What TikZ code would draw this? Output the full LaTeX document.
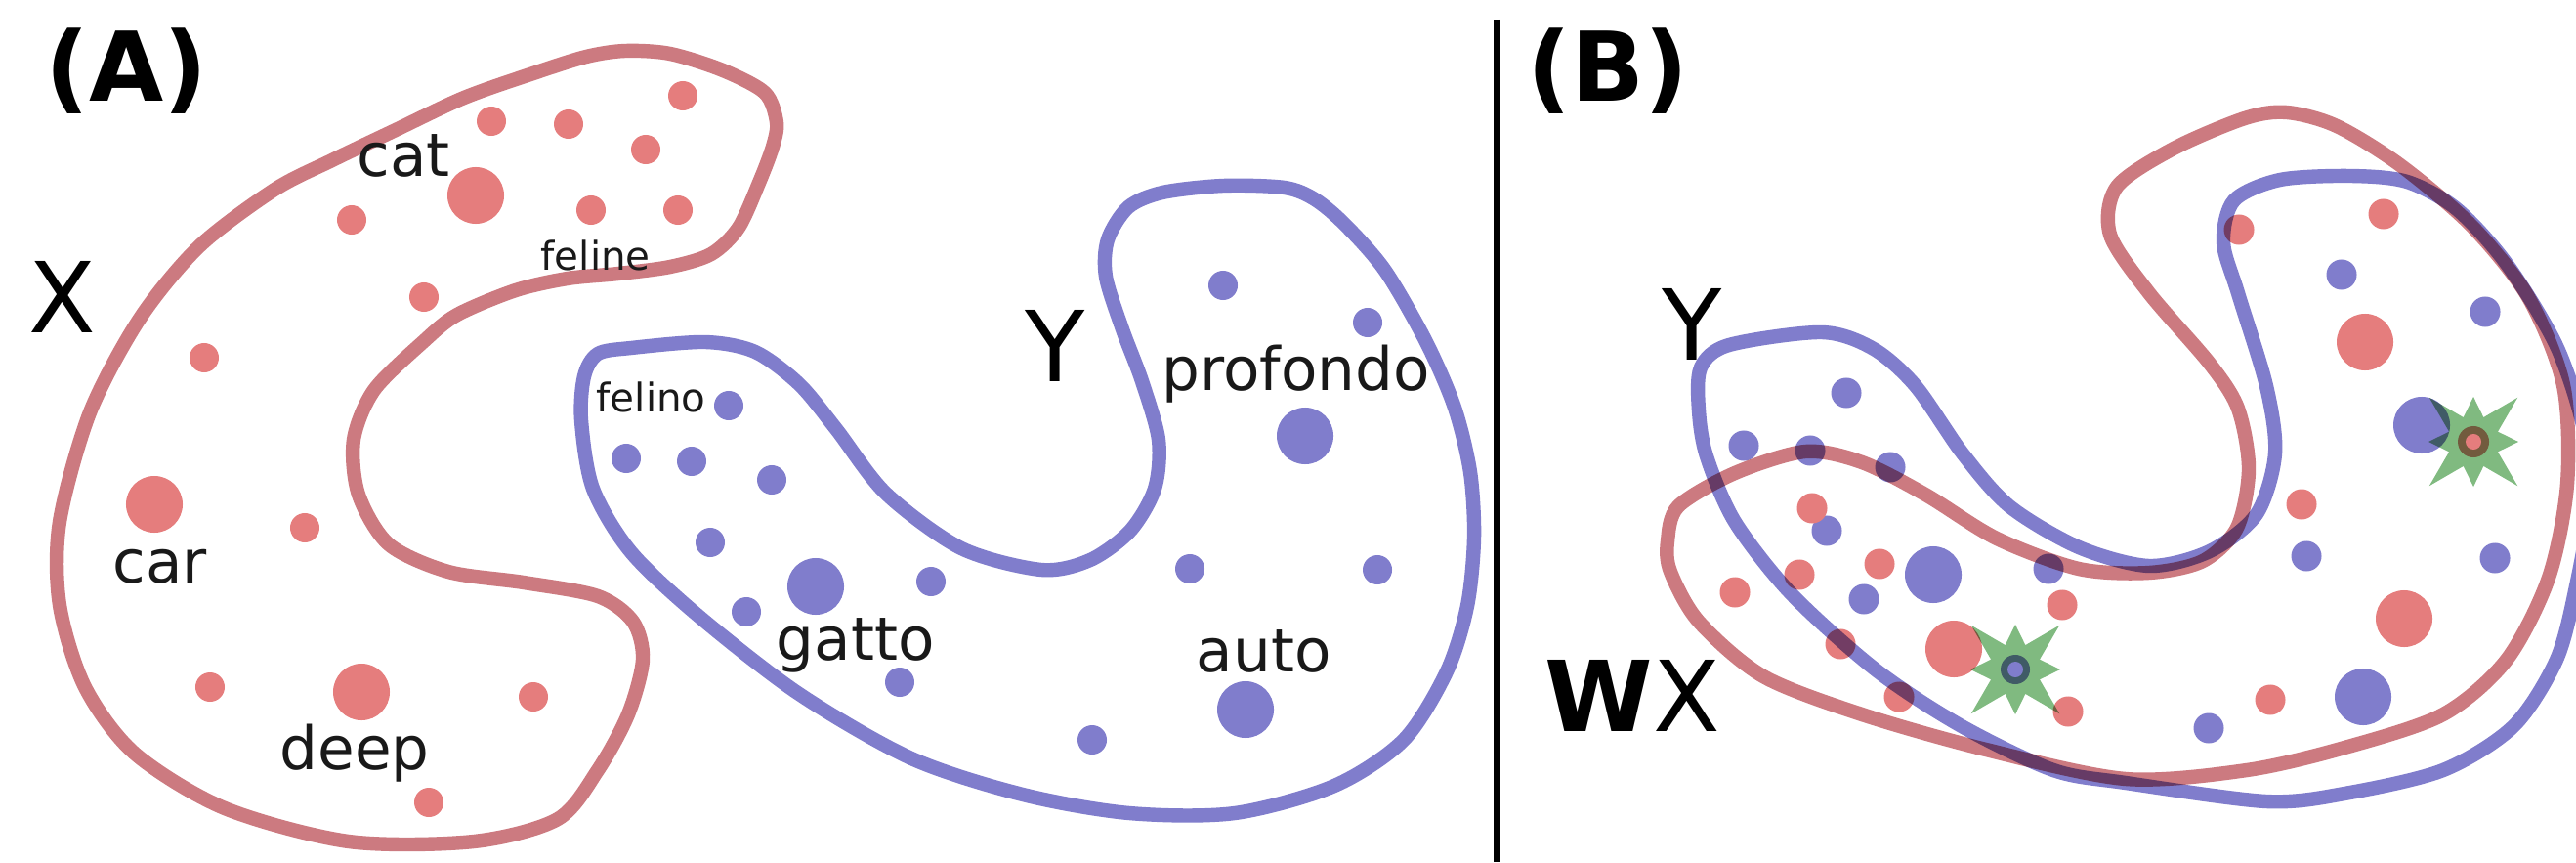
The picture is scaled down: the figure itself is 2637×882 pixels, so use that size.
\documentclass[tikz,border=0pt]{standalone}
\usepackage{fontspec}
\setmainfont{DejaVu Sans}
\usepackage{tikz}
\usetikzlibrary{positioning}
\definecolor{xline}{RGB}{204,122,128}
\definecolor{xdot}{RGB}{229,125,125}
\definecolor{yline}{RGB}{128,125,204}
\definecolor{ydot}{RGB}{128,125,204}
\definecolor{stargreen}{RGB}{128,186,128}
\definecolor{inktext}{RGB}{25,25,25}
\tikzset{
  xshape/.style={draw=xline, line width=4.1pt},
  yshape/.style={draw=yline, line width=4.1pt},
  word/.style={inner sep=0pt, anchor=base west, text=inktext,
    font=\fontsize{17.4}{20}\selectfont},
  smallword/.style={word, font=\fontsize{11.5}{13}\selectfont},
  setname/.style={word, text=black, font=\fontsize{28.5}{34}\selectfont},
  panel/.style={word, text=black, font=\fontsize{28}{34}\selectfont\bfseries},
  starmark/.pic={
    \fill[stargreen, blend mode=multiply] (0:46) -- (22.5:27) -- (45:64) -- (67.5:27) -- (90:46)
      -- (112.5:27) -- (135:64) -- (157.5:27) -- (180:46) -- (202.5:27) -- (225:64)
      -- (247.5:27) -- (270:46) -- (292.5:27) -- (315:64) -- (337.5:27) -- cycle;
  }
}

\begin{document}
\begin{tikzpicture}[x=0.01cm, y=-0.01cm]
  \useasboundingbox (0,0) rectangle (2637,882);
  \clip (0,0) rectangle (2637,882);

  % Panel (A): dots of X
  \foreach \p in {(503,124),(582,127),(699,98),(661,153),(360,225),(605,215),(694,215),
      (434,304),(209,366),(312,540),(215,703),(546,713),(439,821)}
    \fill[xdot] \p circle[radius=0.15cm];
  \foreach \p in {(487,200),(158,516),(370,708)}
    \fill[xdot] \p circle[radius=0.29cm];

  % Panel (A): dots of Y
  \foreach \p in {(746,415),(641,469),(708,472),(790,491),(727,555),(953,595),(764,626),
      (921,698),(1118,757),(1252,292),(1400,330),(1218,582),(1410,583)}
    \fill[ydot] \p circle[radius=0.15cm];
  \foreach \p in {(835,600),(1336,446),(1275,726)}
    \fill[ydot] \p circle[radius=0.29cm];

  % Panel (A): outline of X
  \draw[xshape] plot[smooth cycle] coordinates {(795,125) (783,95) (740,72) (686,55)
    (640,52) (600,58) (546,75) (475,100) (405,133) (340,164) (281,194) (204,252)
    (143,326) (92,422) (61,534) (61,619) (87,703) (138,771) (230,827) (357,861)
    (485,861) (571,838) (612,788) (643,731) (658,675) (648,636) (612,610) (536,596)
    (459,585) (398,557) (367,506) (362,450) (383,399) (434,349) (468,322) (528,297)
    (581,285) (633,280) (686,273) (728,260) (756,233) (777,187) (791,150)};

  % Panel (A): outline of Y
  \draw[yshape] plot[smooth cycle] coordinates {(598,385) (612,362) (646,356) (722,350)
    (773,360) (818,393) (856,439) (907,505) (984,561) (1066,583) (1116,573) (1157,543)
    (1182,500) (1186,450) (1169,390) (1149,337) (1132,283) (1134,245) (1155,212)
    (1190,197) (1252,190) (1315,192) (1346,204) (1377,230) (1418,277) (1460,350)
    (1489,417) (1505,483) (1509,550) (1502,620) (1481,687) (1437,757) (1366,804)
    (1264,832) (1156,832) (1047,813) (933,776) (818,710) (716,631) (646,565) (607,500)
    (595,430)};

  % Panel (A): labels
  \node[panel] (panelA) at (46,104) {(A)};
  \node[setname] (nameXa) at (29,340) {X};
  \node[setname] (nameYa) at (1049,390) {Y};
  \node[word] (cat) at (365,180) {cat};
  \node[smallword] (feline) at (553,276) {feline};
  \node[word] (car) at (115,596) {car};
  \node[word] (deep) at (286,787) {deep};
  \node[smallword] (felino) at (610,421) {felino};
  \node[word] (profondo) at (1189,399) {profondo};
  \node[word] (gatto) at (794,675) {gatto};
  \node[word] (auto) at (1224,687) {auto};

  % divider
  \draw[line width=2pt] (1532,20) -- (1532,882);

  % Panel (B): dots
  \foreach \p in {(1890,402),(1785,456),(1853,461),(1935,478),(1870,543),(1908,613),
      (2097,582),(2397,281),(2544,319),(2361,569),(2554,571),(2261,745)}
    \fill[ydot] \p circle[radius=0.155cm];
  \foreach \p in {(1979,588),(2479,435),(2419,713)}
    \fill[ydot] \p circle[radius=0.29cm];
  \foreach \p in {(2292,235),(2440,219),(2356,516),(1855,520),(1924,577),(1842,588),
      (1776,606),(1884,659),(2111,619),(2117,728),(1944,713),(2324,716)}
    \fill[xdot] \p circle[radius=0.155cm];
  \foreach \p in {(2421,350),(2000,664),(2461,633)}
    \fill[xdot] \p circle[radius=0.29cm];

  % Panel (B): outlines after the mapping W
  \draw[xshape, blend mode=multiply] plot[smooth cycle] coordinates {(1707,554) (1718,518)
    (1776,484) (1848,462) (1906,473) (1971,506) (2044,551) (2128,582) (2200,586)
    (2255,574) (2290,540) (2302,480) (2291,418) (2262,372) (2200,300) (2160,240)
    (2167,191) (2225,152) (2298,121) (2341,115) (2392,129) (2457,169) (2530,231)
    (2588,304) (2624,394) (2628,495) (2609,591) (2566,675) (2501,731) (2400,765)
    (2300,788) (2176,797) (2033,767) (1906,731) (1805,692) (1739,636) (1710,585)};
  \draw[yshape, blend mode=multiply] plot[smooth cycle] coordinates {(1741,376) (1770,353)
    (1865,340) (1918,357) (1961,395) (2009,464) (2057,518) (2128,560) (2200,579)
    (2262,564) (2310,526) (2329,464) (2320,395) (2291,300) (2276,248) (2287,205)
    (2334,184) (2406,180) (2464,186) (2515,214) (2566,270) (2617,354) (2645,440)
    (2650,520) (2637,600) (2617,675) (2573,743) (2501,788) (2400,812) (2320,820)
    (2176,801) (2102,788) (2008,743) (1921,686) (1834,608) (1776,534) (1747,467)
    (1739,420)};

  % Panel (B): matched pairs
  \fill[ydot] (2063,685) circle[radius=0.15cm];
  \pic at (2063,685) {starmark};
  \fill[ydot] (2063,685) circle[radius=0.08cm];
  \fill[xdot] (2532,452) circle[radius=0.16cm];
  \pic at (2532,452) {starmark};
  \fill[xdot] (2532,452) circle[radius=0.08cm];

  % Panel (B): labels
  \node[panel] (panelB) at (1563,104) {(B)};
  \node[setname] (nameYb) at (1701,368) {Y};
  \node[setname] (nameWX) at (1581,748) {\textbf{W}X};
\end{tikzpicture}
\end{document}
